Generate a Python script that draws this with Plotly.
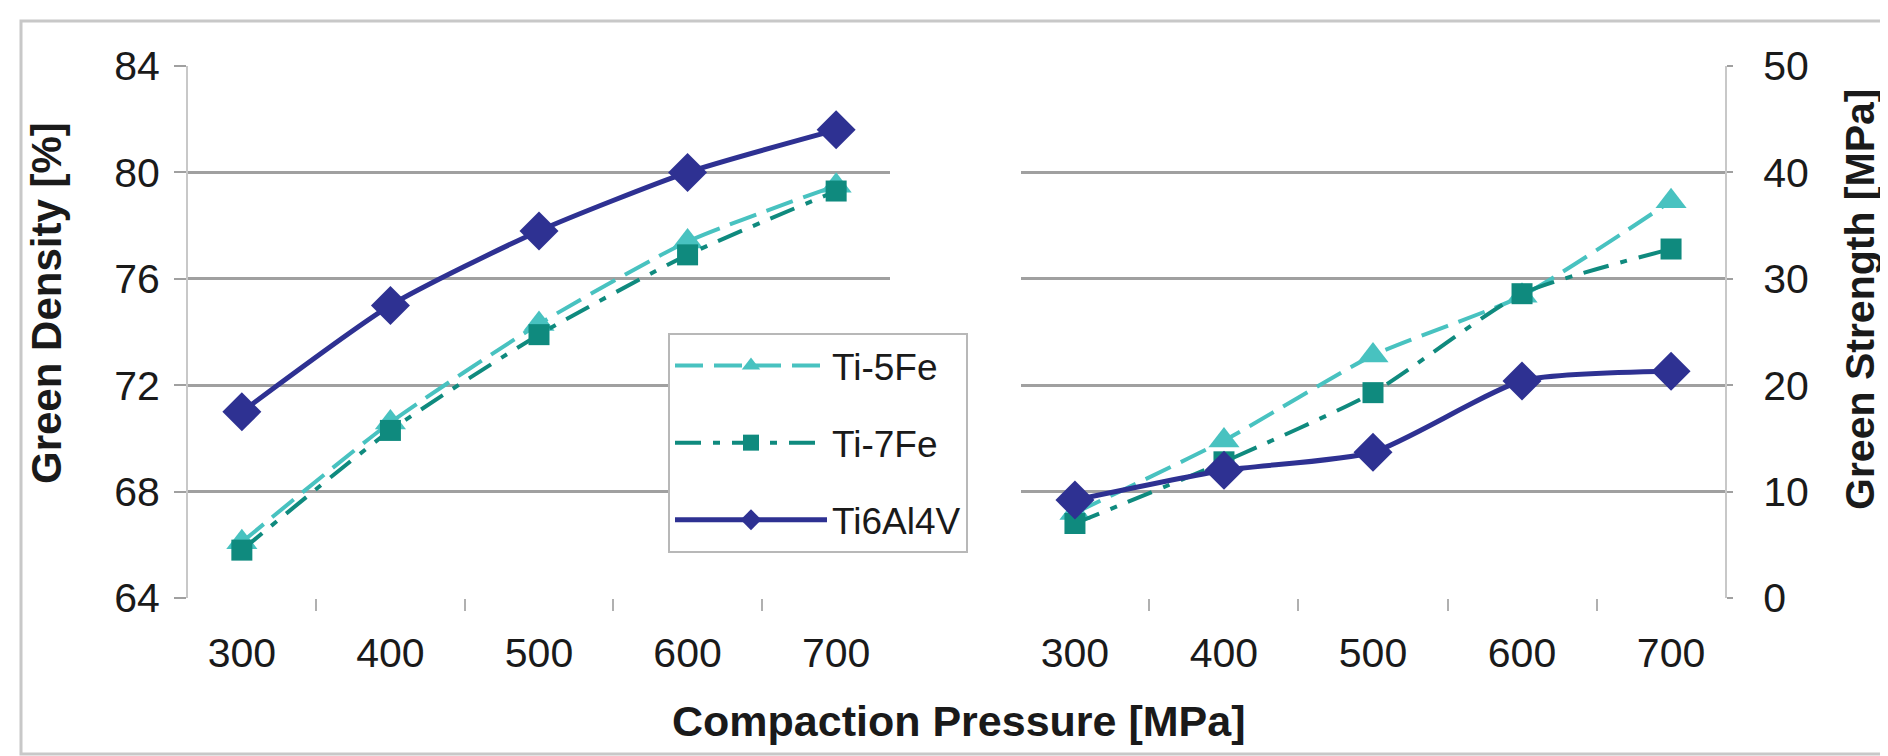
import plotly.graph_objects as go

pressure = ["300", "400", "500", "600", "700"]
density_ti5fe = [66.1, 70.6, 74.3, 77.4, 79.5]
density_ti7fe = [65.8, 70.3, 73.9, 76.9, 79.3]
density_ti64 = [71.0, 75.0, 77.8, 80.0, 81.6]
strength_ti5fe = [8.0, 14.8, 22.8, 28.4, 37.3]
strength_ti7fe = [7.0, 12.8, 19.3, 28.6, 32.8]
strength_ti64 = [9.2, 12.0, 13.7, 20.4, 21.3]
density_ticks = [64, 68, 72, 76, 80, 84]
strength_ticks = [0, 10, 20, 30, 40, 50]

C5 = "#48C2C0"
C7 = "#0F8A7E"
C64 = "#2E3192"
FONT = "Liberation Sans, Arial, sans-serif"

styles = {
    "Ti-5Fe": dict(color=C5, dash="28px,11px", width=4, symbol="triangle-up", size=27, rank=1),
    "Ti-7Fe": dict(color=C7, dash="26px,12px,7px,12px", width=4, symbol="square", size=21, rank=2),
    "Ti6Al4V": dict(color=C64, dash="solid", width=5, symbol="diamond", size=30, rank=3),
}

fig = go.Figure()
series = [("Ti-5Fe", density_ti5fe, strength_ti5fe),
          ("Ti-7Fe", density_ti7fe, strength_ti7fe),
          ("Ti6Al4V", density_ti64, strength_ti64)]
for name, dens, stren in series:
    s = styles[name]
    for yv, xa, ya, show in [(dens, "x", "y", True), (stren, "x2", "y2", False)]:
        fig.add_trace(go.Scatter(
            x=pressure, y=yv, xaxis=xa, yaxis=ya, name=name,
            mode="lines+markers", showlegend=show, legendgroup=name,
            legendrank=s["rank"],
            line=dict(color=s["color"], dash=s["dash"], width=s["width"], shape="spline", smoothing=0.6),
            marker=dict(symbol=s["symbol"], size=s["size"], color=s["color"], line=dict(width=0)),
        ))

tickfont = dict(family=FONT, size=41, color="#1a1a1a")
grid = "#A0A0A0"
xcommon = dict(type="category", tickson="boundaries", ticks="outside", ticklen=12,
               tickcolor="#B0B0B0", tickwidth=2, showline=False, showgrid=False,
               tickfont=tickfont, ticklabelstandoff=27)
fig.update_layout(
    width=1888, height=756,
    margin=dict(l=0, r=0, t=0, b=0, autoexpand=False),
    paper_bgcolor="white", plot_bgcolor="white",
    xaxis=dict(domain=[180/1888, 882/1888], anchor="y", **xcommon),
    xaxis2=dict(domain=[1013/1888, 1717/1888], anchor="y2", **xcommon),
    yaxis=dict(domain=[1-590/756, 1-58/756], anchor="x", range=[64, 84], tickvals=density_ticks,
               showgrid=True, gridcolor=grid, gridwidth=2.5, zeroline=False,
               showline=True, linecolor="#C8C8C8", linewidth=2, mirror=False,
               ticks="outside", ticklen=12, tickcolor=grid, tickwidth=2,
               tickfont=tickfont, ticklabelstandoff=6),
    yaxis2=dict(domain=[1-590/756, 1-58/756], anchor="x2", side="right", range=[0, 50],
                tickvals=strength_ticks, showgrid=True, gridcolor=grid, gridwidth=2.5, zeroline=False,
                showline=True, linecolor="#C8C8C8", linewidth=2,
                ticks="outside", ticklen=6, tickcolor=grid, tickwidth=2,
                tickfont=tickfont, ticklabelstandoff=22),
    legend=dict(x=660/1888, y=1-325/756, xanchor="left", yanchor="top",
                bgcolor="white", bordercolor="#B8B8B8", borderwidth=2,
                font=dict(family=FONT, size=37, color="#1a1a1a"),
                tracegroupgap=26, itemwidth=152, traceorder="grouped",
                entrywidth=165),
    annotations=[
        dict(text="<b>Compaction Pressure [MPa]</b>", x=950/1888, y=1-713/756, xref="paper", yref="paper",
             showarrow=False, xanchor="center", yanchor="middle",
             font=dict(family=FONT, size=43, color="#1a1a1a")),
        dict(text="<b>Green Density [%]</b>", x=38/1888, y=1-295/756, xref="paper", yref="paper",
             showarrow=False, textangle=-90, xanchor="center", yanchor="middle",
             font=dict(family=FONT, size=42, color="#1a1a1a")),
        dict(text="<b>Green Strength [MPa]</b>", x=1852/1888, y=1-292/756, xref="paper", yref="paper",
             showarrow=False, textangle=-90, xanchor="center", yanchor="middle",
             font=dict(family=FONT, size=41, color="#1a1a1a")),
    ],
    shapes=[dict(type="rect", xref="paper", yref="paper", x0=13/1888, x1=1.01, y0=1-746/756, y1=1-13/756,
                 line=dict(color="#C8C8C8", width=3), layer="below")],
)
fig.write_html("out.html")
